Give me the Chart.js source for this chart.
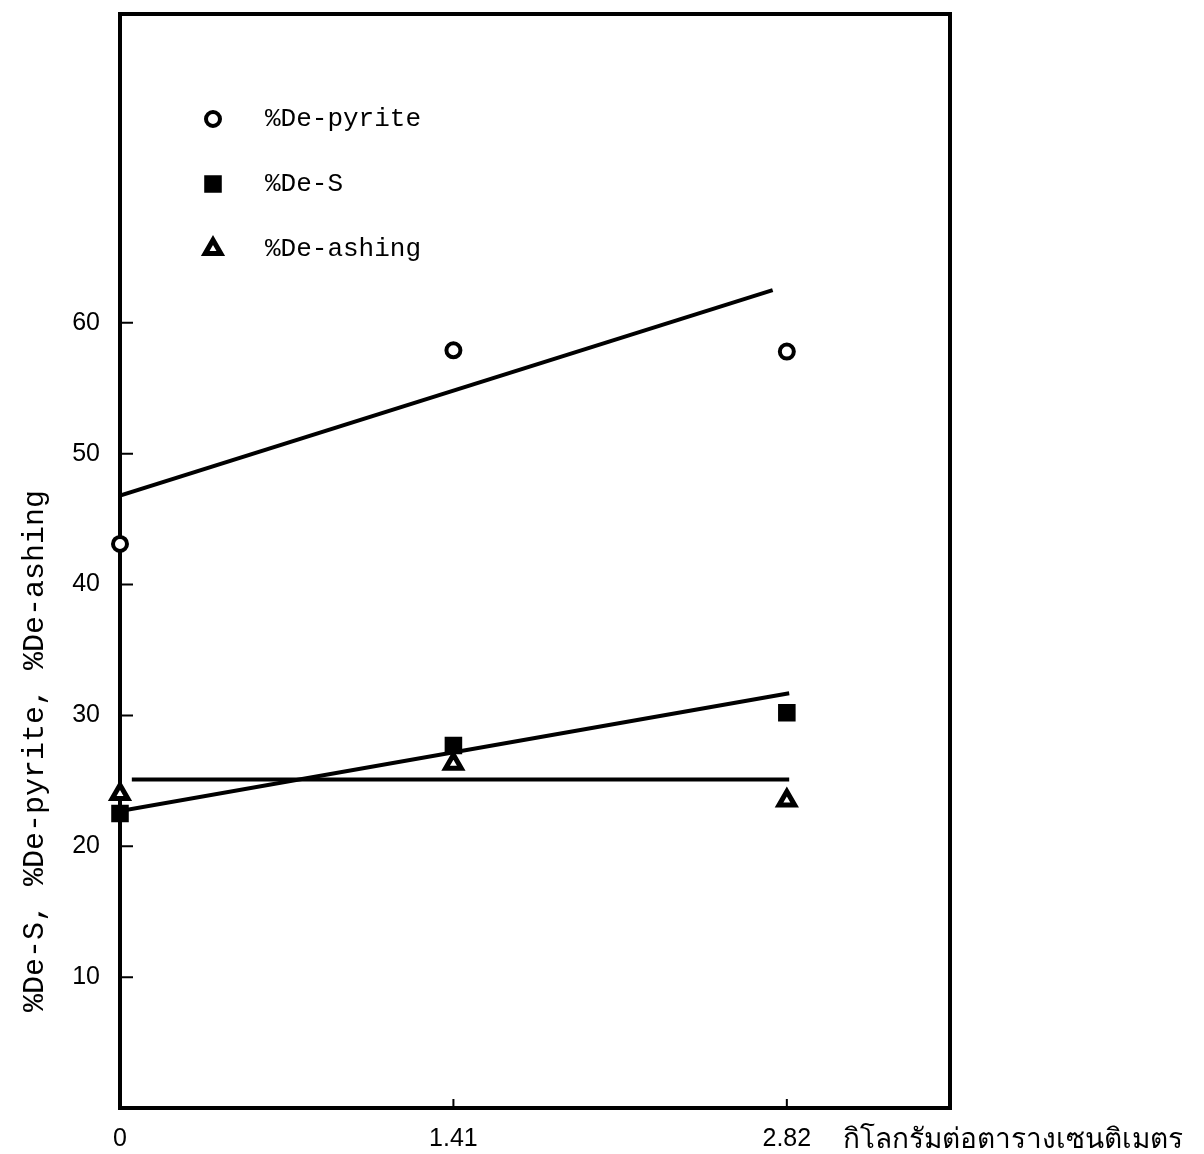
<!DOCTYPE html>
<html>
<head>
<meta charset="utf-8">
<script src="https://cdn.jsdelivr.net/npm/chart.js@4.4.1/dist/chart.umd.min.js"></script>
<style>
    html, body { margin: 0; background: #fff; }
    #wrap { width: 1204px; height: 1154px; }
</style>
</head>
<body>
<div id="wrap"><canvas id="chart"></canvas></div>
<script>
// Pressure levels (x) and measured removal percentages
const pressure = [0, 1.41, 2.82];
const dePyrite = [43.1, 57.9, 57.8];
const deS = [22.5, 27.7, 30.2];
const deAshing = [24.0, 26.3, 23.5];

// Straight fit lines as drawn: start and end of each
const pyriteFitX = [0, 2.76];
const pyriteFitY = [46.8, 62.5];
const sFitX = [0, 2.83];
const sFitY = [22.7, 31.7];
const ashFitX = [0.05, 2.83];
const ashFitY = [25.1, 25.1];

const xTicks = [0, 1.41, 2.82];
const yTicks = [10, 20, 30, 40, 50, 60];
const seriesNames = ["%De-pyrite", "%De-S", "%De-ashing"];
const yTitle = "%De-S, %De-pyrite, %De-ashing";
const xUnit = "กิโลกรัมต่อตารางเซนติเมตร";

const MONO = "'Liberation Mono', 'DejaVu Sans Mono', monospace";
const SANS = "'Liberation Sans', Arial, sans-serif";

function toPoints(xs, ys) {
    return xs.map((x, i) => ({x: x, y: ys[i]}));
}

const markerStyles = [
    {pointStyle: "circle", radius: 7, borderWidth: 4, fill: "#fff"},
    {pointStyle: "rect", radius: 11, borderWidth: 2, fill: "#000"},
    {pointStyle: "triangle", radius: 9, borderWidth: 5, fill: "#fff"}
];

function pointSet(label, ys, m) {
    return {
        type: "scatter",
        label: label,
        data: toPoints(pressure, ys),
        pointStyle: m.pointStyle,
        pointRadius: m.radius,
        pointBorderWidth: m.borderWidth,
        pointBackgroundColor: m.fill,
        pointBorderColor: "#000",
        clip: false,
        order: 1
    };
}

function fitSet(xs, ys) {
    return {
        type: "line",
        data: toPoints(xs, ys),
        borderColor: "#000",
        borderWidth: 4,
        pointRadius: 0,
        fill: false,
        order: 2
    };
}

// frame, inner tick marks, legend and the texts placed by hand
const decorations = {
    id: "decorations",
    afterDraw(chart) {
        const ctx = chart.ctx;
        const a = chart.chartArea;
        const xs = chart.scales.x;
        const ys = chart.scales.y;
        ctx.save();
        ctx.strokeStyle = "#000";
        ctx.lineCap = "square";

        // top and right sides of the frame
        ctx.lineWidth = 4;
        ctx.beginPath();
        ctx.moveTo(a.left, a.top);
        ctx.lineTo(a.right, a.top);
        ctx.lineTo(a.right, a.bottom);
        ctx.stroke();

        // short inward ticks
        ctx.lineWidth = 2;
        ctx.beginPath();
        yTicks.forEach(v => {
            const py = ys.getPixelForValue(v);
            ctx.moveTo(a.left, py);
            ctx.lineTo(a.left + 12, py);
        });
        xTicks.slice(1).forEach(v => {
            const px = xs.getPixelForValue(v);
            ctx.moveTo(px, a.bottom);
            ctx.lineTo(px, a.bottom - 8);
        });
        ctx.stroke();

        // legend
        ctx.font = "26px " + MONO;
        ctx.textBaseline = "middle";
        ctx.textAlign = "left";
        seriesNames.forEach((name, i) => {
            const m = markerStyles[i];
            const y = a.top + 105 + i * 65;
            ctx.fillStyle = m.fill;
            ctx.strokeStyle = "#000";
            ctx.lineWidth = m.borderWidth;
            Chart.helpers.drawPoint(ctx, {
                pointStyle: m.pointStyle, radius: m.radius, borderWidth: m.borderWidth, rotation: 0
            }, a.left + 93, y);
            ctx.fillStyle = "#000";
            ctx.fillText(name, a.left + 145, y);
        });

        // unit after the last x tick
        ctx.font = "28px 'Noto Sans', " + SANS;
        ctx.fillText(xUnit, xs.getPixelForValue(2.82) + 56, a.bottom + 32);

        // y axis title
        ctx.font = "30px " + MONO;
        ctx.textAlign = "center";
        ctx.translate(35, 751);
        ctx.rotate(-Math.PI / 2);
        ctx.fillText(yTitle, 0, 0);
        ctx.restore();
    }
};

new Chart(document.getElementById("chart"), {
    data: {
        datasets: [
            pointSet(seriesNames[0], dePyrite, markerStyles[0]),
            pointSet(seriesNames[1], deS, markerStyles[1]),
            pointSet(seriesNames[2], deAshing, markerStyles[2]),
            fitSet(pyriteFitX, pyriteFitY),
            fitSet(sFitX, sFitY),
            fitSet(ashFitX, ashFitY)
        ]
    },
    options: {
        responsive: true,
        maintainAspectRatio: false,
        animation: false,
        layout: {padding: {top: 13, right: 254, bottom: 0, left: 0}},
        plugins: {
            legend: {display: false},
            tooltip: {enabled: false}
        },
        scales: {
            x: {
                type: "linear",
                min: 0,
                max: 3.51,
                afterBuildTicks: s => { s.ticks = xTicks.map(v => ({value: v})); },
                afterFit: s => { s.height = 46; s.paddingLeft = 0; s.paddingRight = 0; },
                grid: {drawOnChartArea: false, drawTicks: false},
                border: {color: "#000", width: 4},
                ticks: {
                    color: "#000",
                    font: {family: SANS, size: 25},
                    padding: 16,
                    maxRotation: 0,
                    callback: v => String(v)
                }
            },
            y: {
                type: "linear",
                min: 0,
                max: 83.6,
                afterBuildTicks: s => { s.ticks = yTicks.map(v => ({value: v})); },
                afterFit: s => { s.width = 120; s.paddingTop = 0; s.paddingBottom = 0; },
                grid: {drawOnChartArea: false, drawTicks: false},
                border: {color: "#000", width: 4},
                ticks: {
                    color: "#000",
                    font: {family: SANS, size: 25},
                    padding: 20
                }
            }
        }
    },
    plugins: [decorations]
});
</script>
</body>
</html>
